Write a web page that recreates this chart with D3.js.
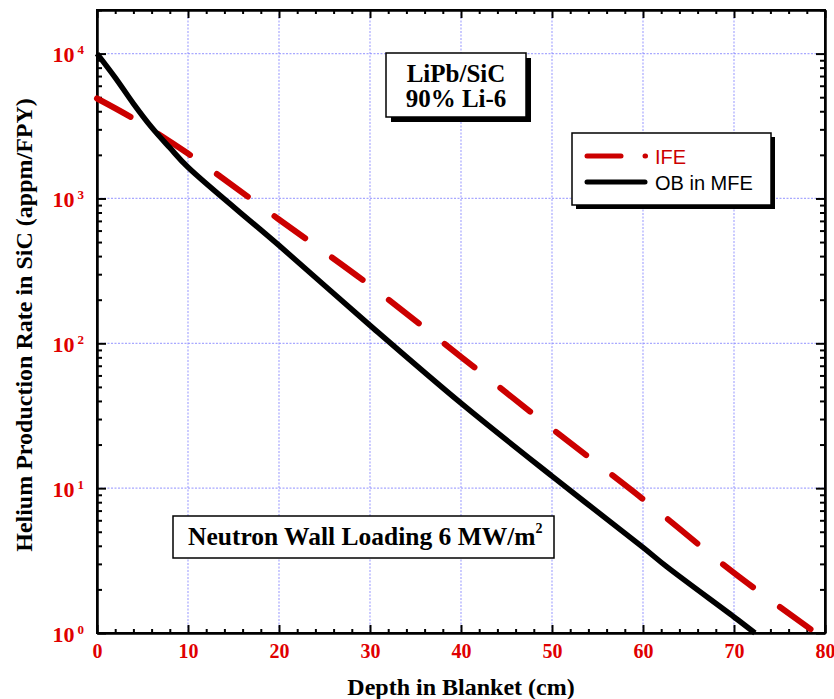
<!DOCTYPE html>
<html>
<head>
<meta charset="utf-8">
<script src="https://cdn.jsdelivr.net/npm/d3@7"></script>
<style>
body { margin:0; background:#fff; }
.grid line { stroke:#8c8cff; stroke-width:1.2; stroke-dasharray:2,1.5; opacity:0.75; }
.ax path, .ax line { stroke:#000; stroke-width:2; }
.ax text { font-family:"Liberation Serif", serif; font-weight:bold; fill:#e00000; }
</style>
</head>
<body>
<div id="chart"></div>
<script>
// depth in blanket (cm) vs helium production (appm/FPY)
var depthMFE  = [0, 2, 4, 6, 8, 10, 20, 30, 40, 50, 60, 62.6, 70, 72.3];
var heliumMFE = [10000, 6830, 4520, 3100, 2240, 1640, 474, 133, 38.6, 12.1, 3.9, 2.87, 1.29, 1.0];
var depthIFE  = [0, 4, 10, 20, 30, 40, 50, 60, 70, 79];
var heliumIFE = [4900, 3560, 2040, 716, 251, 80.7, 25.7, 8.4, 2.6, 1.0];

var xTicks = [0, 10, 20, 30, 40, 50, 60, 70, 80];
var yDecades = [0, 1, 2, 3, 4];
var seriesNames = ["IFE", "OB in MFE"];

var margin = { top:10, right:9, bottom:66, left:97 },
	width = 834 - margin.left - margin.right,
	height = 699 - margin.top - margin.bottom;

var x = d3.scaleLinear().domain([0, 80]).range([0, width]);
var y = d3.scaleLog().domain([1, 2e4]).range([height, 0]);

var yMajor = yDecades.map(function(e) { return Math.pow(10, e); });
var yMinor = [];
yDecades.forEach(function(e) {
	for (var k = 2; k <= 9; k++) {
		var v = k * Math.pow(10, e);
		if (v <= 2e4) yMinor.push(v);
	}
});
var xMinor = d3.range(0, 81, 2).filter(function(d) { return d % 10 !== 0; });

var svg = d3.select("#chart").append("svg")
	.attr("width", 834)
	.attr("height", 699)
	.append("g").attr("transform", "translate(" + margin.left + "," + margin.top + ")");

// grid
var grid = svg.append("g").attr("class", "grid");
grid.selectAll(".gx").data(xTicks.slice(1, -1)).enter().append("line")
	.attr("x1", function(d) { return x(d); }).attr("x2", function(d) { return x(d); })
	.attr("y1", 0).attr("y2", height);
grid.selectAll(".gy").data(yMajor.slice(1)).enter().append("line")
	.attr("x1", 0).attr("x2", width)
	.attr("y1", function(d) { return y(d); }).attr("y2", function(d) { return y(d); });

// axes, ticks pointing inward
var xax = svg.append("g").attr("class", "ax")
	.attr("transform", "translate(0," + height + ")")
	.call(d3.axisBottom(x).tickValues(xTicks).tickSize(-8).tickSizeOuter(0).tickPadding(11).tickFormat(d3.format("d")));
xax.selectAll("text").style("font-size", "20px");
svg.append("g").attr("class", "ax")
	.attr("transform", "translate(0," + height + ")")
	.call(d3.axisBottom(x).tickValues(xMinor).tickSize(-4).tickSizeOuter(0).tickFormat(""));
svg.append("g").attr("class", "ax")
	.call(d3.axisTop(x).tickValues(xTicks).tickSize(-8).tickSizeOuter(0).tickFormat(""));
svg.append("g").attr("class", "ax")
	.call(d3.axisTop(x).tickValues(xMinor).tickSize(-4).tickSizeOuter(0).tickFormat(""));

var yax = svg.append("g").attr("class", "ax")
	.call(d3.axisLeft(y).tickValues(yMajor).tickSize(-9).tickSizeOuter(0).tickFormat(""));
svg.append("g").attr("class", "ax")
	.call(d3.axisLeft(y).tickValues(yMinor).tickSize(-5).tickSizeOuter(0).tickFormat(""));
svg.append("g").attr("class", "ax")
	.attr("transform", "translate(" + width + ",0)")
	.call(d3.axisRight(y).tickValues(yMajor).tickSize(-9).tickSizeOuter(0).tickFormat(""));
svg.append("g").attr("class", "ax")
	.attr("transform", "translate(" + width + ",0)")
	.call(d3.axisRight(y).tickValues(yMinor).tickSize(-5).tickSizeOuter(0).tickFormat(""));

var lab = yax.selectAll(".tick").append("text")
	.attr("x", -13).attr("y", 8)
	.attr("text-anchor", "end");
lab.append("tspan").style("font-size", "22px").text("10");
lab.append("tspan").style("font-size", "13px").attr("dx", 3).attr("dy", -8)
	.text(function(d) { return Math.round(Math.log10(d)); });

svg.append("rect").attr("width", width).attr("height", height)
	.attr("fill", "none").attr("stroke", "#000").attr("stroke-width", 2);

// series
var valueline = d3.line()
	.x(function(d) { return x(d[0]); })
	.y(function(d) { return y(d[1]); })
	.curve(d3.curveCatmullRom.alpha(0.5));

var ife = d3.zip(depthIFE, heliumIFE);
var mfe = d3.zip(depthMFE, heliumMFE);

svg.append("path").datum(ife).attr("d", valueline)
	.attr("fill", "none").attr("stroke", "#cc0000").attr("stroke-width", 6)
	.attr("stroke-linecap", "round").attr("stroke-dasharray", "38,33");
svg.append("path").datum(mfe).attr("d", valueline)
	.attr("fill", "none").attr("stroke", "#000").attr("stroke-width", 5.5)
	.attr("stroke-linejoin", "round");

// axis titles
svg.append("text")
	.attr("x", width / 2).attr("y", 695 - margin.top)
	.attr("text-anchor", "middle")
	.style("font", "bold 24px 'Liberation Serif', serif")
	.text("Depth in Blanket (cm)");
svg.append("text")
	.attr("transform", "translate(" + (32 - margin.left) + "," + (325 - margin.top) + ") rotate(-90)")
	.attr("text-anchor", "middle")
	.style("font", "bold 24px 'Liberation Serif', serif")
	.text("Helium Production Rate in SiC (appm/FPY)");

// boxes (page coords)
var page = d3.select("#chart svg");

function shadowBox(bx, by, bw, bh, off) {
	if (off) page.append("rect").attr("x", bx + off).attr("y", by + off)
		.attr("width", bw).attr("height", bh).attr("fill", "#000");
	page.append("rect").attr("x", bx).attr("y", by).attr("width", bw).attr("height", bh)
		.attr("fill", "#fff").attr("stroke", "#000").attr("stroke-width", 1.5);
}

shadowBox(386, 53, 140, 64, 5);
page.append("text").attr("x", 456).attr("y", 82).attr("text-anchor", "middle")
	.style("font", "bold 25px 'Liberation Serif', serif").text("LiPb/SiC");
page.append("text").attr("x", 456).attr("y", 107).attr("text-anchor", "middle")
	.style("font", "bold 25px 'Liberation Serif', serif").text("90% Li-6");

shadowBox(173, 516, 381, 42, 0);
var nw = page.append("text").attr("x", 188).attr("y", 545)
	.style("font", "bold 25.5px 'Liberation Serif', serif");
nw.append("tspan").text("Neutron Wall Loading 6 MW/m");
nw.append("tspan").attr("dy", -12).style("font-size", "14px").text("2");

// legend
shadowBox(572, 133, 199, 72, 4);
page.append("line").attr("x1", 587).attr("x2", 621).attr("y1", 156).attr("y2", 156)
	.attr("stroke", "#cc0000").attr("stroke-width", 5).attr("stroke-linecap", "round");
page.append("line").attr("x1", 645).attr("x2", 645.5).attr("y1", 156).attr("y2", 156)
	.attr("stroke", "#cc0000").attr("stroke-width", 5).attr("stroke-linecap", "round");
page.append("line").attr("x1", 587).attr("x2", 645).attr("y1", 182).attr("y2", 182)
	.attr("stroke", "#000").attr("stroke-width", 5).attr("stroke-linecap", "round");
page.append("text").attr("x", 655).attr("y", 164).attr("fill", "#cc0000")
	.style("font", "20px 'Liberation Sans', Arial, sans-serif").text(seriesNames[0]);
page.append("text").attr("x", 655).attr("y", 190).attr("fill", "#000")
	.style("font", "20px 'Liberation Sans', Arial, sans-serif").text(seriesNames[1]);
</script>
</body>
</html>
